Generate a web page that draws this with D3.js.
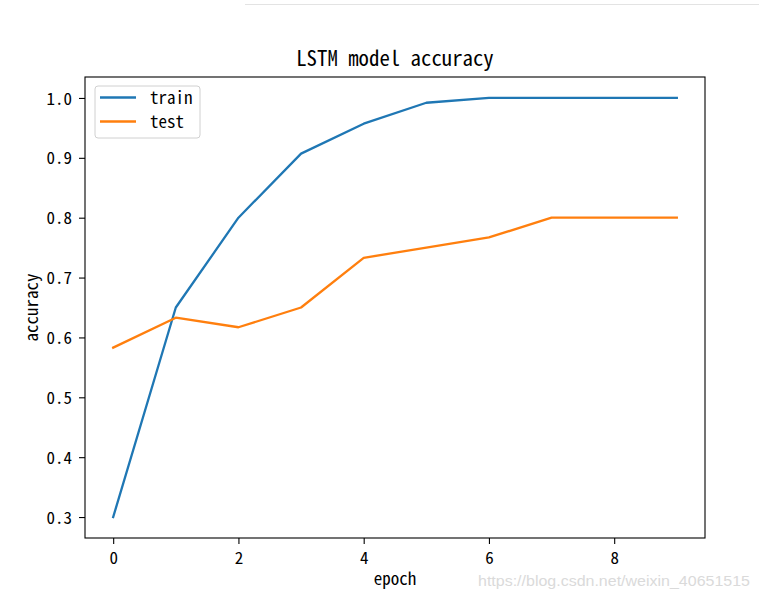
<!DOCTYPE html>
<html>
<head>
<meta charset="utf-8">
<script src="https://cdn.jsdelivr.net/npm/d3@7"></script>
<style>
  html, body { margin: 0; padding: 0; background: #fff; }
  svg text { font-family: "Noto Sans CJK SC", "DejaVu Sans Mono", monospace; font-feature-settings: "hwid"; }
</style>
</head>
<body>
<svg id="chart" width="759" height="600"></svg>
<script>
const epochs = [0, 1, 2, 3, 4, 5, 6, 7, 8, 9];
const trainAcc = [0.300, 0.650, 0.800, 0.907, 0.957, 0.992, 1.000, 1.000, 1.000, 1.000];
const testAcc  = [0.583, 0.633, 0.617, 0.650, 0.733, 0.750, 0.767, 0.800, 0.800, 0.800];
const xTicks = [0, 2, 4, 6, 8];
const yTicks = [0.3, 0.4, 0.5, 0.6, 0.7, 0.8, 0.9, 1.0];
const seriesNames = ["train", "test"];
const seriesColors = ["#1f77b4", "#ff7f0e"];
const titleText = "LSTM model accuracy";
const xLabel = "epoch";
const yLabel = "accuracy";
const watermark = "https://blog.csdn.net/weixin_40651515";

const svg = d3.select("#chart");
const L = 85, R = 705, T = 77, B = 538;

// faint line at the top of the screenshot
svg.append("line").attr("x1", 245).attr("x2", 759).attr("y1", 4.5).attr("y2", 4.5)
  .attr("stroke", "#e3e3e3").attr("stroke-width", 1);

const x = d3.scaleLinear().domain([-0.45, 9.45]).range([L, R]);
const y = d3.scaleLinear().domain([0.265, 1.035]).range([B, T]);

const fontTick = 17;

// axes
const xAxis = svg.append("g").attr("transform", `translate(0,${B})`)
  .call(d3.axisBottom(x).tickValues(xTicks).tickFormat(d3.format("d")).tickSizeOuter(0).tickSize(6).tickPadding(8));
const yAxis = svg.append("g").attr("transform", `translate(${L},0)`)
  .call(d3.axisLeft(y).tickValues(yTicks).tickFormat(d3.format(".1f")).tickSizeOuter(0).tickSize(6).tickPadding(7));
[xAxis, yAxis].forEach(g => {
  g.select(".domain").remove();
  g.selectAll("line").attr("stroke", "#000").attr("stroke-width", 1.1);
  g.selectAll("text").attr("fill", "#000").style("font-size", fontTick + "px");
});
yAxis.selectAll("text").attr("dy", "0.36em");

// series
const line = d3.line().x((d, i) => x(epochs[i])).y(d => y(d));
[trainAcc, testAcc].forEach((s, k) => {
  svg.append("path").datum(s).attr("d", line)
    .attr("fill", "none").attr("stroke", seriesColors[k]).attr("stroke-width", 2.3)
    .attr("stroke-linejoin", "round").attr("stroke-linecap", "square");
});

// frame
svg.append("rect").attr("x", L).attr("y", T).attr("width", R - L).attr("height", B - T)
  .attr("fill", "none").attr("stroke", "#000").attr("stroke-width", 1.1);

// legend
const lg = svg.append("g");
lg.append("rect").attr("x", 95).attr("y", 86).attr("width", 105).attr("height", 52)
  .attr("rx", 3).attr("fill", "#fff").attr("fill-opacity", 0.8)
  .attr("stroke", "#d0d0d0").attr("stroke-width", 1);
seriesNames.forEach((n, k) => {
  const yy = 97.5 + k * 24;
  lg.append("line").attr("x1", 100).attr("x2", 136).attr("y1", yy).attr("y2", yy)
    .attr("stroke", seriesColors[k]).attr("stroke-width", 2.3);
  lg.append("text").attr("x", 150).attr("y", yy).attr("dy", "0.36em")
    .style("font-size", fontTick + "px").attr("fill", "#000").text(n);
});

// title and labels
svg.append("text").attr("x", (L + R) / 2).attr("y", 66).attr("text-anchor", "middle")
  .style("font-size", "20.8px").attr("fill", "#000").text(titleText);
svg.append("text").attr("x", (L + R) / 2).attr("y", 585).attr("text-anchor", "middle")
  .style("font-size", fontTick + "px").attr("fill", "#000").text(xLabel);
svg.append("text").attr("transform", `translate(38,${(T + B) / 2}) rotate(-90)`).attr("text-anchor", "middle")
  .style("font-size", fontTick + "px").attr("fill", "#000").text(yLabel);

// watermark
svg.append("text").attr("x", 478).attr("y", 586)
  .style("font-family", "'Liberation Sans', Arial, sans-serif").style("font-feature-settings", "normal")
  .style("font-size", "15.5px").attr("fill", "#dadada")
  .attr("textLength", 272).attr("lengthAdjust", "spacingAndGlyphs").text(watermark);
</script>
</body>
</html>
